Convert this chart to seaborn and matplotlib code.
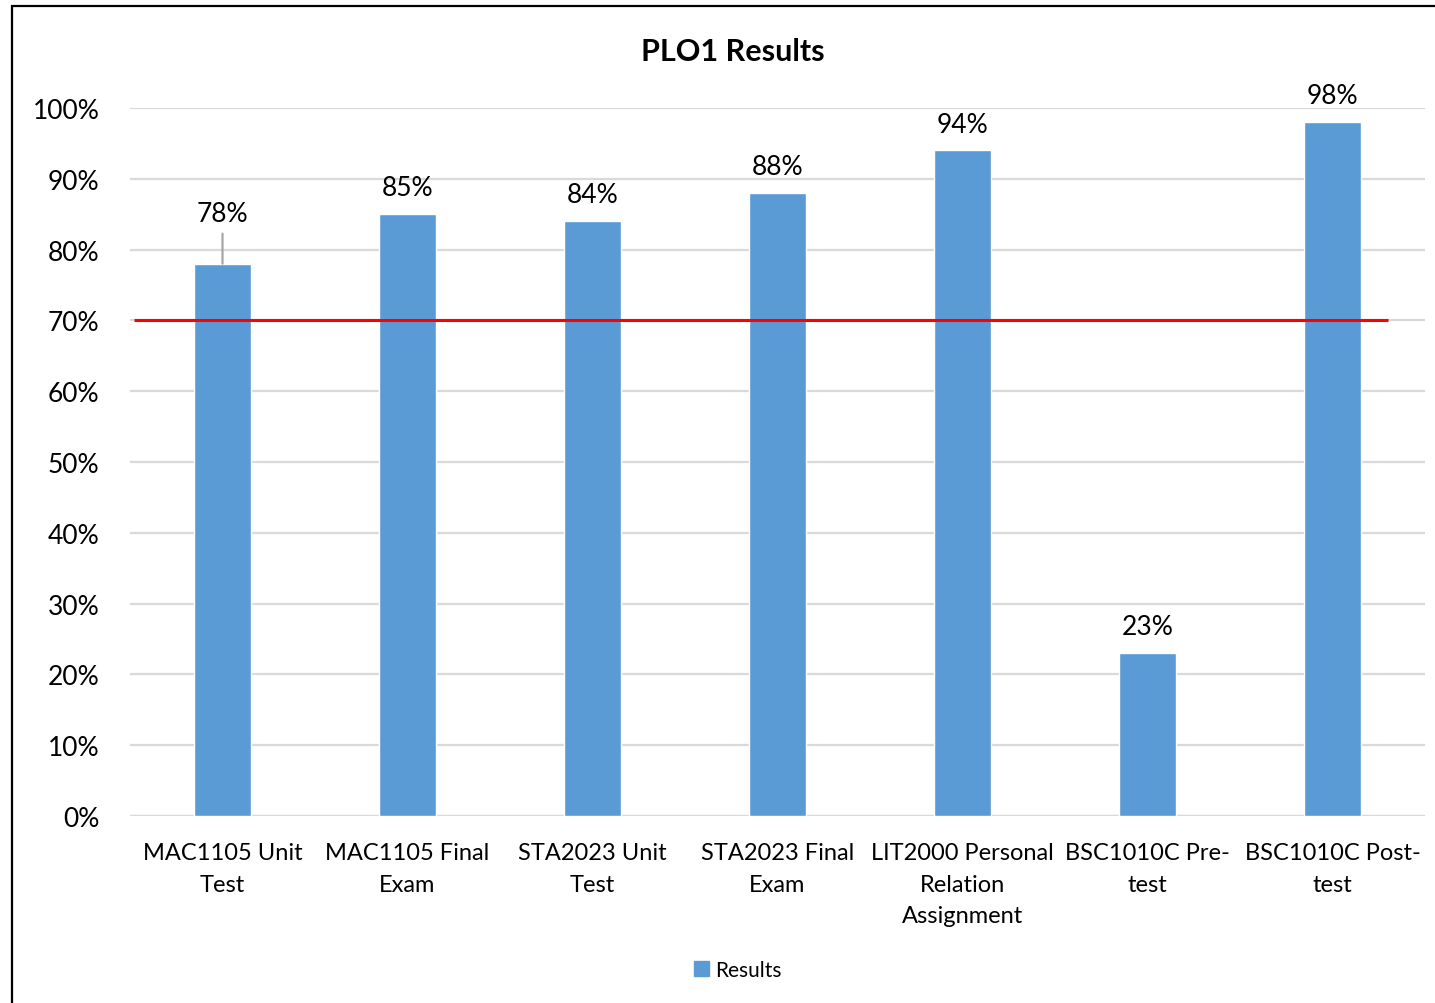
import matplotlib
matplotlib.use("Agg")
import matplotlib.pyplot as plt
import seaborn as sns
import pandas as pd
from matplotlib.patches import Patch, Rectangle
from matplotlib.ticker import PercentFormatter

# data
categories = ["MAC1105 Unit\nTest", "MAC1105 Final\nExam", "STA2023 Unit\nTest",
              "STA2023 Final\nExam", "LIT2000 Personal\nRelation\nAssignment",
              "BSC1010C Pre-\ntest", "BSC1010C Post-\ntest"]
results = [0.78, 0.85, 0.84, 0.88, 0.94, 0.23, 0.98]
target = 0.70

sns.set_theme(style="white")
plt.rcParams["font.family"] = ["Lato", "DejaVu Sans"]
plt.rcParams["text.color"] = "black"
plt.rcParams["xtick.color"] = "black"
plt.rcParams["ytick.color"] = "black"

df = pd.DataFrame({"category": categories, "value": results})

fig = plt.figure(figsize=(14.35, 10.04), dpi=100)
ax = fig.add_axes([0.0906, 0.1863, 0.9024, 0.7052])

sns.barplot(data=df, x="category", y="value", color="#5B9BD5", width=0.31,
            saturation=1, ax=ax, zorder=3)

ax.set_ylim(0, 1.0)
ax.set_xlim(-0.5, 6.5)
ax.set_yticks([i / 10 for i in range(11)])
ax.yaxis.set_major_formatter(PercentFormatter(1.0, decimals=0))
ax.grid(axis="y", color="#d9d9d9", lw=1.6, zorder=0)
ax.grid(axis="x", visible=False)
for s in ax.spines.values():
    s.set_visible(False)
ax.axhline(0, color="#d9d9d9", lw=1.6, zorder=1)
ax.tick_params(axis="y", length=0, pad=22, labelsize=19)
ax.tick_params(axis="x", length=0, pad=19, labelsize=17)
for lbl in ax.get_xticklabels():
    lbl.set_linespacing(1.62)
ax.set_xlabel("")
ax.set_ylabel("")

# target line
ax.hlines(target, -0.48, 6.30, color="#ff0000", lw=2.2, zorder=4)

# value labels
for i, v in enumerate(results):
    if i == 0:
        ax.annotate(f"{v:.0%}", xy=(i, v), xytext=(0, 27), textcoords="offset points",
                    ha="center", va="bottom", fontsize=19,
                    arrowprops=dict(arrowstyle="-", color="#a6a6a6", lw=1.6,
                                    shrinkA=3, shrinkB=0))
    else:
        ax.annotate(f"{v:.0%}", xy=(i, v), xytext=(0, 10), textcoords="offset points",
                    ha="center", va="bottom", fontsize=19)

fig.text(0.511, 0.948, "PLO1 Results", ha="center", va="center",
         fontsize=22, fontweight="bold")

fig.legend(handles=[Patch(color="#5B9BD5", label="Results")], loc="center",
           bbox_to_anchor=(0.514, 0.033), frameon=False, fontsize=15,
           handlelength=0.7, handleheight=0.7, handletextpad=0.3)

# outer frame (clipped by image edge on right/bottom)
fig.patches.append(Rectangle((12 / 1435, -0.05), 1.1, 1 - 7 / 1004 + 0.05,
                             transform=fig.transFigure, fill=False,
                             edgecolor="black", lw=1.6, clip_on=False))

fig.savefig("out.png", dpi=100)
